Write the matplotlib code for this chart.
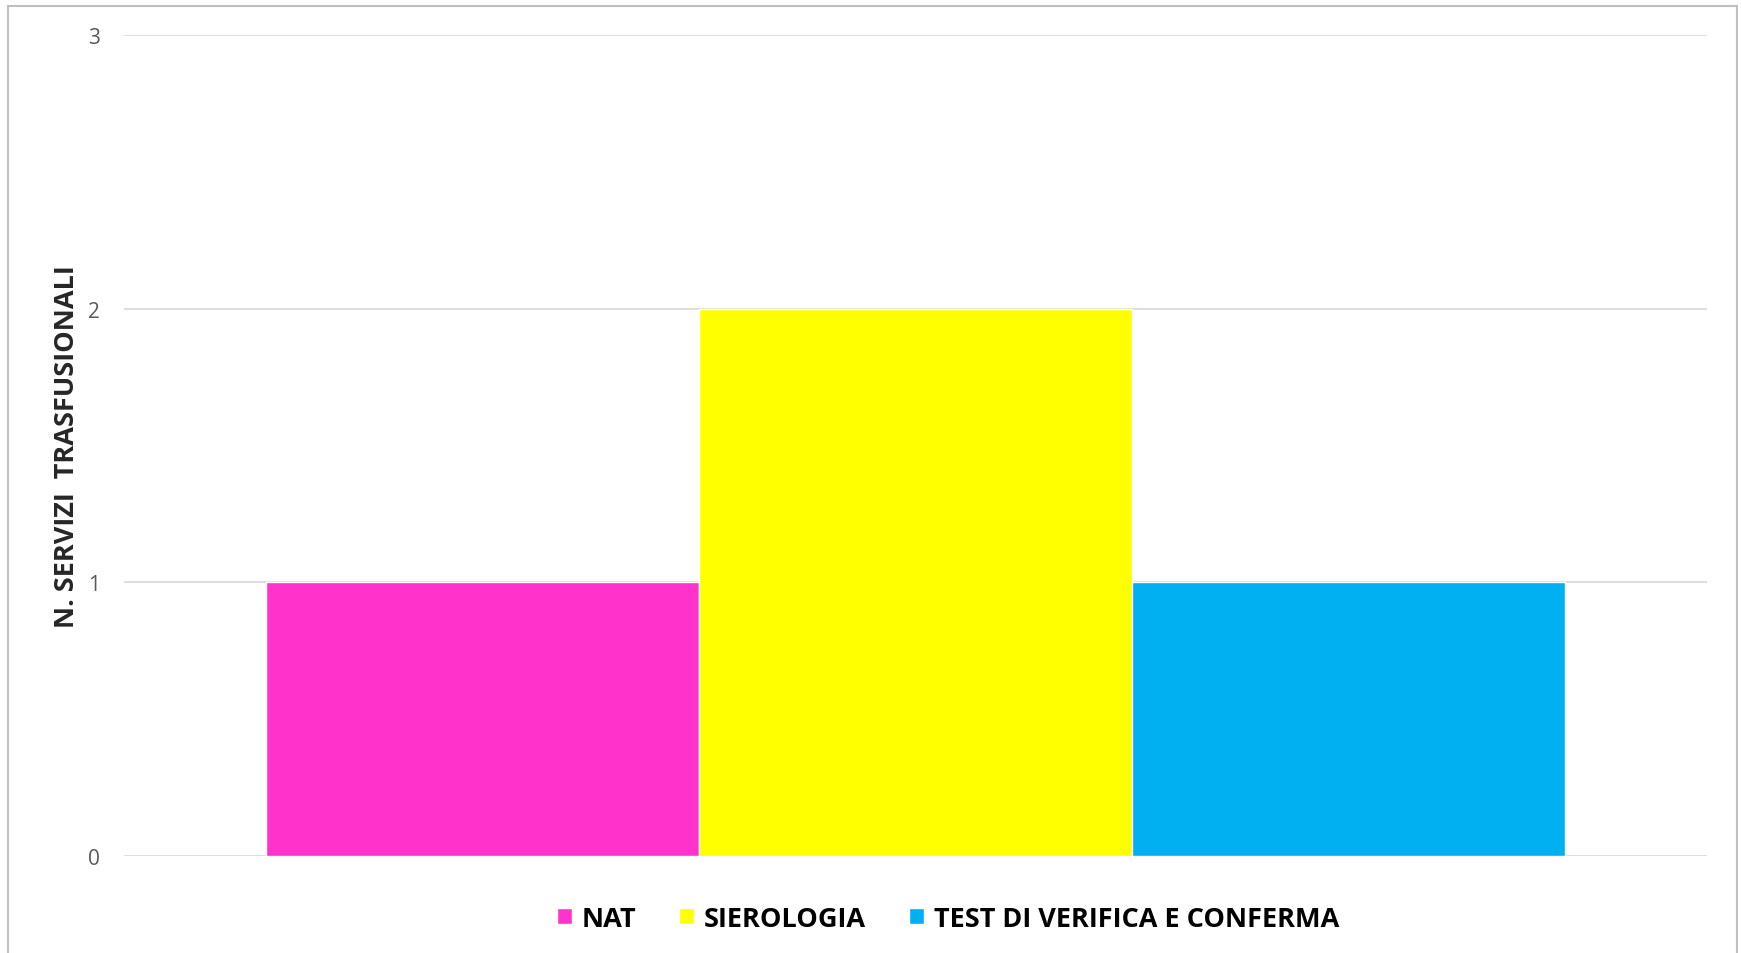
import matplotlib.pyplot as plt
from matplotlib.patches import Rectangle

series = ['NAT', 'SIEROLOGIA', 'TEST DI VERIFICA E CONFERMA']
values = [1, 2, 1]
colors = ['#FF33CC', '#FFFF00', '#00B0F0']
y_ticks = [0, 1, 2, 3]

plt.rcParams['font.family'] = ['Open Sans', 'DejaVu Sans']

fig = plt.figure(figsize=(17.41, 9.54), dpi=100)
ax = fig.add_axes([0.0712, 0.1017, 0.9093, 0.8606])

width = 0.2737
for i in range(len(series)):
    ax.bar((i - 1) * width, values[i], width=width, color=colors[i],
           edgecolor='white', linewidth=1, label=series[i], zorder=3)

ax.set_xlim(-0.5, 0.5)
ax.set_ylim(0, 3)
ax.set_yticks(y_ticks)
ax.set_xticks([])
ax.tick_params(axis='y', length=0, pad=17, labelsize=15, labelcolor='#595959')
ax.grid(axis='y', color='#D9D9D9', linewidth=1.2, zorder=0)
for s in ax.spines.values():
    s.set_visible(False)

ax.set_ylabel('N. SERVIZI  TRASFUSIONALI', fontsize=19.5, fontweight='bold',
              color='#262626')
ax.yaxis.set_label_coords(-0.028, 0.5)

fig.legend(loc='center', bbox_to_anchor=(0.5445, 0.036), ncol=3, frameon=False,
           prop={'weight': 'bold', 'size': 19.5}, handlelength=0.55, handleheight=0.55,
           handletextpad=0.35, columnspacing=1.6)

# outer chart border
fig.patches.append(Rectangle((8 / 1741, -0.05), 1729 / 1741, 1.05 - 7 / 954,
                             transform=fig.transFigure, fill=False,
                             edgecolor='#BFBFBF', linewidth=1.5))

fig.savefig('out.png', dpi=100)
